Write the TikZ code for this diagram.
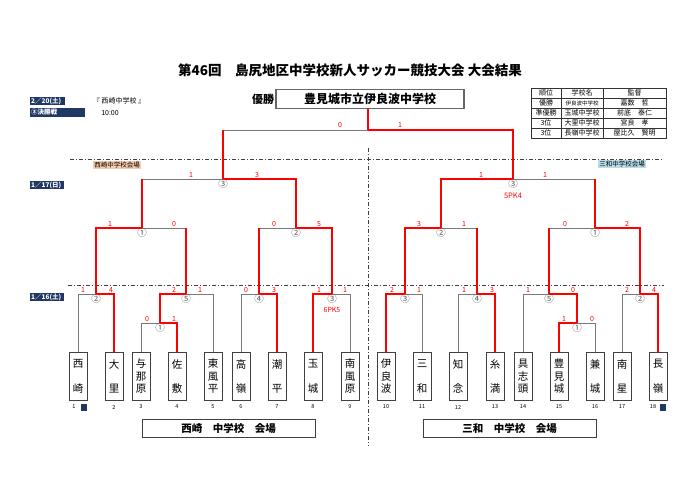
\documentclass[tikz,border=0pt]{standalone}
\usepackage{fontspec}
\setmainfont{Noto Sans CJK JP}
\usetikzlibrary{positioning}
\tikzset{>=latex}
\definecolor{navy}{RGB}{31,56,100}
\definecolor{peach}{RGB}{248,203,173}
\definecolor{skyb}{RGB}{183,222,232}
\definecolor{lgray}{RGB}{120,120,120}
\newcommand{\twoch}[2]{#1\\[12pt]#2}
\tikzset{
  win/.style={red,line width=1.6pt},
  lose/.style={lgray,line width=0.8pt},
  team/.style={draw=black!75,line width=0.6pt,minimum width=18pt,minimum height=48pt,anchor=north,inner sep=0pt,align=center,font=\fontsize{10.5}{12.5}\selectfont},
  num/.style={inner sep=0pt,font=\fontsize{5.5}{6}\selectfont},
  score/.style={red,inner sep=0pt,font=\fontsize{7}{8}\selectfont},
  rnd/.style={text=black!65,inner sep=0pt,font=\fontsize{9.5}{9.5}\selectfont},
  datebox/.style={fill=navy,text=white,inner sep=1pt,anchor=west,align=left,font=\fontsize{6.5}{7}\selectfont\bfseries},
  venue/.style={draw=black!75,line width=0.7pt,minimum width=173pt,minimum height=18pt,font=\fontsize{10.5}{11}\selectfont\bfseries},
  dashdot/.style={black!75,line width=0.6pt,dash pattern=on 4pt off 2pt on 1pt off 2pt},
  cell/.style={inner sep=0pt,font=\fontsize{7}{8}\selectfont},
}

\begin{document}
\begin{tikzpicture}[x=1pt,y=-1pt]
\useasboundingbox[fill=white] (0,0) rectangle (700,495);

% title and final
\node[font=\fontsize{13.5}{14}\selectfont\bfseries] (title) at (350,70) {第46回　島尻地区中学校新人サッカー競技大会 大会結果};
\node[draw=black!60,line width=1.2pt,minimum width=188pt,minimum height=19pt,font=\fontsize{12}{13}\selectfont\bfseries] (champ) at (370,99) {豊見城市立伊良波中学校};
\node[font=\fontsize{11}{12}\selectfont\bfseries] (wlab) at (263,99) {優勝};

\node[datebox,text width=33pt] (d0) at (30,101) {2／20(土)};
\node[datebox,text width=53pt] (d00) at (30,112.5) {③決勝戦};
\node[font=\fontsize{7}{8}\selectfont] (place) at (119,101) {『 西崎中学校 』};
\node[font=\fontsize{7}{8}\selectfont] (time) at (110,113) {10:00};
\node[datebox,text width=32pt] (d17) at (30,185) {1／17(日)};
\node[datebox,text width=32pt] (d16) at (30,297) {1／16(土)};

% result table
\draw[black!80,line width=0.8pt] (531,88) rectangle (666,138);
\foreach \y in {98,108,118,128} \draw[black!80,line width=0.5pt] (531,\y) -- (666,\y);
\draw[black!80,line width=0.5pt] (561,88) -- (561,138) (603,88) -- (603,138);
\foreach \i/\a/\b/\c in {0/順位/学校名/監督,1/優勝/{\fontsize{5.5}{6}\selectfont 伊良波中学校}/嘉数　哲,2/準優勝/玉城中学校/前底　泰仁,3/3位/大里中学校/宮良　孝,4/3位/長嶺中学校/屋比久　賢明}{
  \node[cell] (r\i a) at (546,93+10*\i) {\a};
  \node[cell] (r\i b) at (582,93+10*\i) {\b};
  \node[cell] (r\i c) at (634.5,93+10*\i) {\c};
}

% venue lines
\draw[dashdot] (70,159) -- (662,159);
\draw[dashdot] (68,285) -- (664,285);
\draw[dashdot] (368,148) -- (368,446);
\node[fill=peach,inner sep=1pt,font=\fontsize{6.5}{7}\selectfont] (l1) at (117,165) {西崎中学校会場};
\node[fill=skyb,inner sep=1pt,font=\fontsize{6.5}{7}\selectfont] (l2) at (622,164) {三和中学校会場};

% teams
\node[team] (t1) at (78,352) {\twoch{西}{崎}};
\node[team] (t2) at (114,352) {\twoch{大}{里}};
\node[team] (t3) at (141,352) {与\\那\\原};
\node[team] (t4) at (177,352) {\twoch{佐}{敷}};
\node[team] (t5) at (213,352) {東\\風\\平};
\node[team] (t6) at (241,352) {\twoch{高}{嶺}};
\node[team] (t7) at (277,352) {\twoch{潮}{平}};
\node[team] (t8) at (313,352) {\twoch{玉}{城}};
\node[team] (t9) at (350,352) {南\\風\\原};
\node[team] (t10) at (386,352) {伊\\良\\波};
\node[team] (t11) at (422,352) {\twoch{三}{和}};
\node[team] (t12) at (458,352) {\twoch{知}{念}};
\node[team] (t13) at (495,352) {\twoch{糸}{満}};
\node[team] (t14) at (523,352) {具\\志\\頭};
\node[team] (t15) at (559,352) {豊\\見\\城};
\node[team] (t16) at (595,352) {\twoch{兼}{城}};
\node[team] (t17) at (622,352) {\twoch{南}{星}};
\node[team] (t18) at (658,352) {\twoch{長}{嶺}};
\foreach \i/\x in {2/114,3/141,4/177,5/213,6/241,7/277,8/313,9/350,10/386,11/422,12/458,13/495,14/523,15/559,16/595,17/622}
  \node[num] (n\i) at (\x,407) {\i};
\node[num] (n1) at (74,407) {1};
\node[num] (n18) at (653,407) {18};
\node[fill=navy,minimum width=6pt,minimum height=7pt,inner sep=0pt] (k1) at (84,407) {};
\node[fill=navy,minimum width=6pt,minimum height=7pt,inner sep=0pt] (k18) at (663,407) {};

\node[venue] (v1) at (228.5,428) {西崎　中学校　会場};
\node[venue] (v2) at (509.5,428) {三和　中学校　会場};

% match points
\coordinate (a2) at (96,294);
\coordinate (a1) at (160,323);
\coordinate (a5) at (186,294);
\coordinate (a4) at (259,294);
\coordinate (a3) at (332,294);
\coordinate (b1) at (142,228);
\coordinate (b2) at (296,228);
\coordinate (c3) at (223,179);
\coordinate (d3) at (405,294);
\coordinate (d4) at (477,294);
\coordinate (d5) at (549,294);
\coordinate (d1) at (577,323);
\coordinate (d2) at (640,294);
\coordinate (e2) at (441,228);
\coordinate (e1) at (595,228);
\coordinate (f3) at (513,179);
\coordinate (fin) at (368,130);

% losers
\draw[lose] (t1.north) |- (a2);
\draw[lose] (t3.north) |- (a1);
\draw[lose] (t5.north) |- (a5);
\draw[lose] (t6.north) |- (a4);
\draw[lose] (t9.north) |- (a3);
\draw[lose] (t11.north) |- (d3);
\draw[lose] (t12.north) |- (d4);
\draw[lose] (t14.north) |- (d5);
\draw[lose] (t16.north) |- (d1);
\draw[lose] (t17.north) |- (d2);
\draw[lose] (a5 |- b1) -- (b1);
\draw[lose] (a4 |- b2) -- (b2);
\draw[lose] (b1 |- c3) -- (c3);
\draw[lose] (d4 |- e2) -- (e2);
\draw[lose] (d5 |- e1) -- (e1);
\draw[lose] (e1 |- f3) -- (f3);
\draw[lose] (c3 |- fin) -- (fin);

% winners
\draw[win] (t2.north) |- (a2);
\draw[win] (t4.north) |- (a1);
\draw[win] (t7.north) |- (a4);
\draw[win] (t8.north) |- (a3);
\draw[win] (a1) |- (a5);
\draw[win] (a2) |- (b1);
\draw[win] (a3) |- (b2);
\draw[win] (a5) -- (a5 |- b1);
\draw[win] (a4) -- (a4 |- b2);
\draw[win] (b2) |- (c3);
\draw[win] (b1) -- (b1 |- c3);
\draw[win] (c3) -- (c3 |- fin);
\draw[win] (t10.north) |- (d3);
\draw[win] (t13.north) |- (d4);
\draw[win] (t15.north) |- (d1);
\draw[win] (t18.north) |- (d2);
\draw[win] (d1) |- (d5);
\draw[win] (d3) |- (e2);
\draw[win] (d2) |- (e1);
\draw[win] (d4) -- (d4 |- e2);
\draw[win] (d5) -- (d5 |- e1);
\draw[win] (e2) |- (f3);
\draw[win] (e1) -- (e1 |- f3);
\draw[win] (f3) |- (fin);
\draw[win] (fin) -- (fin |- champ.south);

% match numbers
\node[rnd,below=0.5pt of a2] (m2) {②};
\node[rnd,below=0.5pt of a1] (m1) {①};
\node[rnd,below=0.5pt of a5] (m5) {⑤};
\node[rnd,below=0.5pt of a4] (m4) {④};
\node[rnd,below=0.5pt of a3] (m3) {③};
\node[rnd,below=0.5pt of b1] (q1) {①};
\node[rnd,below=0.5pt of b2] (q2) {②};
\node[rnd,below=0.5pt of c3] (s3) {③};
\node[rnd,below=0.5pt of d3] (p3) {③};
\node[rnd,below=0.5pt of d4] (p4) {④};
\node[rnd,below=0.5pt of d5] (p5) {⑤};
\node[rnd,below=0.5pt of d1] (p1) {①};
\node[rnd,below=0.5pt of d2] (p2) {②};
\node[rnd,below=0.5pt of e2] (r2) {②};
\node[rnd,below=0.5pt of e1] (r1) {①};
\node[rnd,below=0.5pt of f3] (u3) {③};
\node[score] (pk1) at (332,310) {6PK5};
\node[score,font=\fontsize{7.5}{8}\selectfont] (pk2) at (513,196) {5PK4};

% scores
\node[score] (x1) at (340,125) {0};
\node[score] (x2) at (400,125) {1};
\node[score] (x3) at (191,175) {1};
\node[score] (x4) at (257,175) {3};
\node[score] (x5) at (481,175) {1};
\node[score] (x6) at (545,175) {1};
\node[score] (x7) at (110,224) {1};
\node[score] (x8) at (174,224) {0};
\node[score] (x9) at (274,224) {0};
\node[score] (x10) at (319,224) {5};
\node[score] (x11) at (419,224) {3};
\node[score] (x12) at (464,224) {1};
\node[score] (x13) at (565,224) {0};
\node[score] (x14) at (627,224) {2};
\node[score] (x15) at (83,290) {1};
\node[score] (x16) at (111,290) {4};
\node[score] (x17) at (174,290) {2};
\node[score] (x18) at (200,290) {1};
\node[score] (x19) at (147,319) {0};
\node[score] (x20) at (174,319) {1};
\node[score] (x21) at (246,290) {0};
\node[score] (x22) at (274,290) {3};
\node[score] (x23) at (319,290) {1};
\node[score] (x24) at (345,290) {1};
\node[score] (x25) at (392,290) {2};
\node[score] (x26) at (419,290) {1};
\node[score] (x27) at (464,290) {1};
\node[score] (x28) at (492,290) {3};
\node[score] (x29) at (528,290) {1};
\node[score] (x30) at (573,290) {0};
\node[score] (x31) at (564,319) {1};
\node[score] (x32) at (592,319) {0};
\node[score] (x33) at (627,290) {2};
\node[score] (x34) at (654,290) {4};
\end{tikzpicture}
\end{document}
